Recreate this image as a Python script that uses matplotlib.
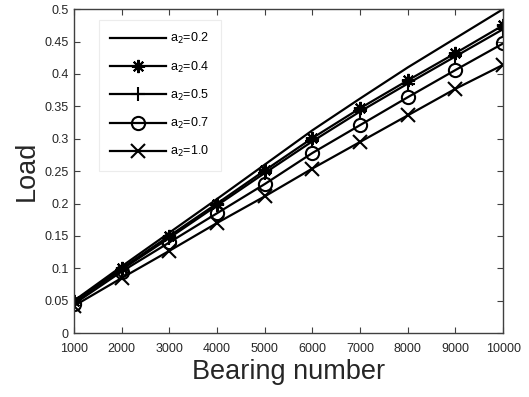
import numpy as np
import matplotlib
matplotlib.use('Agg')
import matplotlib.pyplot as plt

plt.rcParams['font.family'] = ['Liberation Sans', 'DejaVu Sans']

bearing = [1000, 2000, 3000, 4000, 5000, 6000, 7000, 8000, 9000, 10000]

load_02 = [0.050, 0.103, 0.155, 0.207, 0.260, 0.313, 0.362, 0.410, 0.455, 0.500]
load_04 = [0.049, 0.100, 0.150, 0.200, 0.251, 0.301, 0.347, 0.390, 0.432, 0.475]
load_05 = [0.048, 0.098, 0.147, 0.197, 0.247, 0.296, 0.342, 0.385, 0.427, 0.469]
load_07 = [0.045, 0.095, 0.140, 0.185, 0.230, 0.278, 0.321, 0.364, 0.406, 0.447]
load_10 = [0.042, 0.085, 0.127, 0.170, 0.211, 0.254, 0.295, 0.336, 0.377, 0.414]

labels = ['a$_2$=0.2', 'a$_2$=0.4', 'a$_2$=0.5', 'a$_2$=0.7', 'a$_2$=1.0']
series = [load_02, load_04, load_05, load_07, load_10]
markers = [None, (8, 2, 0), '+', 'o', 'x']

fig = plt.figure(figsize=(5.29, 3.97), dpi=100)
ax = fig.add_axes([0.14, 0.161, 0.811, 0.816])

for vals, lab, m in zip(series, labels, markers):
    ax.plot(bearing, vals, color='black', linewidth=1.6, label=lab,
            marker=m, markersize=9.5, markerfacecolor='none',
            markeredgecolor='black', markeredgewidth=1.5)

ax.set_xlim(1000, 10000)
ax.set_ylim(0, 0.5)
ax.set_xticks(bearing)
ax.set_yticks(np.arange(0, 0.51, 0.05))
ax.set_yticklabels(['0', '0.05', '0.1', '0.15', '0.2', '0.25', '0.3', '0.35', '0.4', '0.45', '0.5'])
ax.tick_params(direction='in', top=True, right=True, labelsize=9, length=4, width=0.8,
               colors='#404040', labelcolor='#262626')
ax.tick_params(axis='x', pad=7)
ax.tick_params(axis='y', pad=4)
for s in ax.spines.values():
    s.set_color('#404040')
    s.set_linewidth(1.0)

ax.set_xlabel('Bearing number', fontsize=19.5, color='#262626', labelpad=3)
ax.set_ylabel('Load', fontsize=19.5, color='#262626', labelpad=3)

leg = ax.legend(loc='upper left', bbox_to_anchor=(0.058, 0.966), borderaxespad=0,
                fontsize=9, handlelength=4.5, handletextpad=0.3, labelspacing=1.05,
                borderpad=0.9, fancybox=False, edgecolor='#ececec', framealpha=1)
leg.get_frame().set_linewidth(0.8)

plt.savefig('out.png', dpi=100)
